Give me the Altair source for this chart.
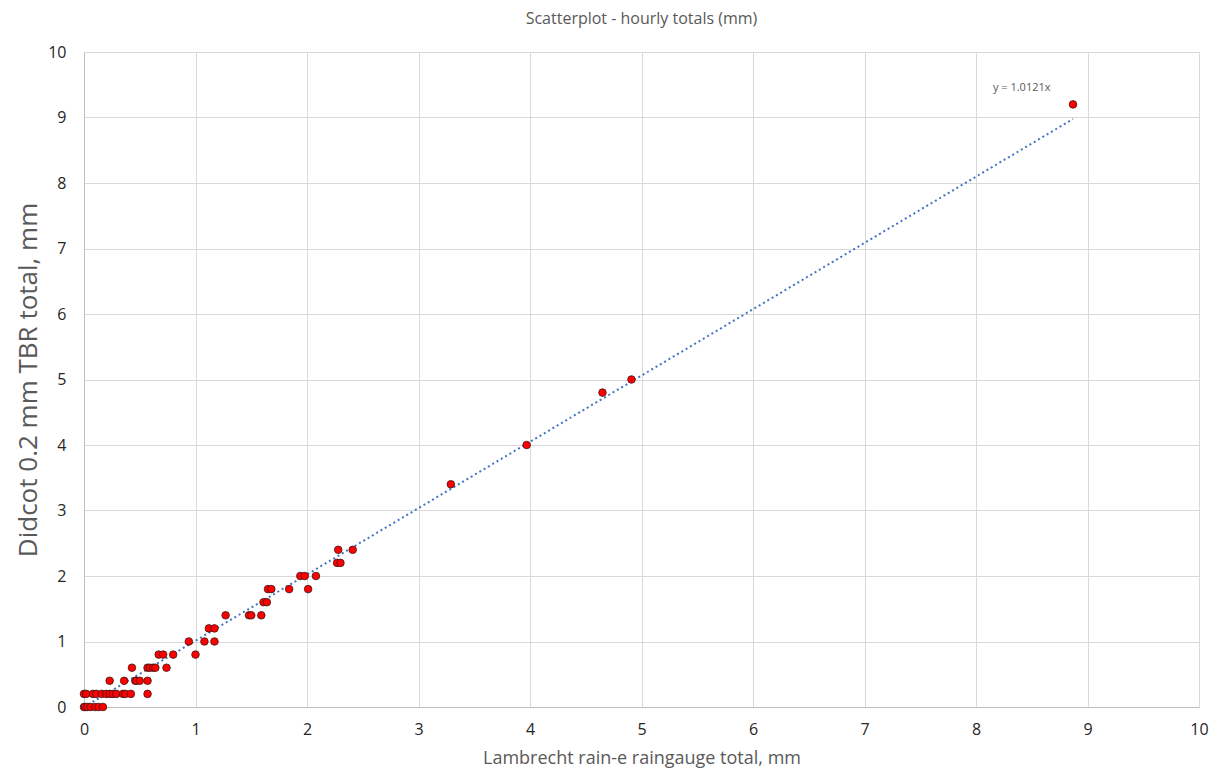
import altair as alt
import pandas as pd

# Lambrecht rain-e totals (x) and Didcot 0.2 mm TBR totals (y), hourly, mm
lambrecht = [
    0, 0.01, 0.03, 0.06, 0.10, 0.13, 0.17,
    0, 0.02, 0.08, 0.11, 0.16, 0.20, 0.23, 0.26, 0.29, 0.35, 0.37, 0.42, 0.57,
    0.23, 0.36, 0.46, 0.47, 0.50, 0.57,
    0.43, 0.57, 0.59, 0.62, 0.64, 0.74,
    0.67, 0.71, 0.80, 1.00,
    0.94, 1.08, 1.17,
    1.12, 1.17,
    1.27, 1.48, 1.50, 1.59,
    1.61, 1.64,
    1.65, 1.68, 1.84, 2.01,
    1.94, 1.98, 2.08,
    2.27, 2.30,
    2.28, 2.41,
    3.29, 3.97, 4.65, 4.91, 8.87,
]
didcot = (
    [0.0] * 7 + [0.2] * 13 + [0.4] * 6 + [0.6] * 6 + [0.8] * 4 + [1.0] * 3
    + [1.2] * 2 + [1.4] * 4 + [1.6] * 2 + [1.8] * 4 + [2.0] * 3 + [2.2] * 2
    + [2.4] * 2 + [3.4, 4.0, 4.8, 5.0, 9.2]
)

slope = 1.0121
trend_x = [0, 8.87]
label_text = ["y = 1.0121x"]
label_x = [8.41]
label_y = [9.45]

pts = pd.DataFrame({"x": lambrecht, "y": didcot})
trend = pd.DataFrame({"x": trend_x, "y": [slope * v for v in trend_x]})
lab = pd.DataFrame({"x": label_x, "y": label_y, "t": label_text})

FONT = "Open Sans"
GRAY = "#595959"

xscale = alt.Scale(domain=[0, 10], nice=False, zero=True)
yscale = alt.Scale(domain=[0, 10], nice=False, zero=True)

xaxis = alt.Axis(
    values=list(range(0, 11)), format="d", labelFlush=False,
    title="Lambrecht rain-e raingauge total, mm",
    grid=True, gridColor="#d9d9d9", domainColor="#bfbfbf", ticks=False,
    labelFontSize=16, labelColor="#262626", labelPadding=14, labelFont=FONT,
    titleFontSize=18, titleColor=GRAY, titleFont=FONT, titleFontWeight="normal",
    titlePadding=12,
)
yaxis = alt.Axis(
    values=list(range(0, 11)), format="d", labelFlush=False,
    title="Didcot 0.2 mm TBR total, mm",
    grid=True, gridColor="#d9d9d9", domainColor="#bfbfbf", ticks=False,
    labelFontSize=16, labelColor="#262626", labelPadding=18, labelFont=FONT,
    titleFontSize=26, titleColor=GRAY, titleFont=FONT, titleFontWeight="normal",
    titlePadding=6,
)

base_pts = alt.Chart(pts).mark_circle(
    size=58, color="#ff0000", opacity=1, stroke="#3a1a1a", strokeWidth=0.8
).encode(
    x=alt.X("x:Q", scale=xscale, axis=xaxis),
    y=alt.Y("y:Q", scale=yscale, axis=yaxis),
)

line = alt.Chart(trend).mark_line(
    color="#4472c4", strokeWidth=2, strokeDash=[2, 3]
).encode(x=alt.X("x:Q", scale=xscale), y=alt.Y("y:Q", scale=yscale))

text = alt.Chart(lab).mark_text(
    fontSize=11, color=GRAY, font=FONT
).encode(x=alt.X("x:Q", scale=xscale), y=alt.Y("y:Q", scale=yscale), text="t:N")

chart = alt.layer(line, base_pts, text).properties(
    width=1115, height=655,
    title=alt.TitleParams(
        "Scatterplot - hourly totals (mm)", fontSize=16, color=GRAY,
        font=FONT, fontWeight="normal", anchor="middle", offset=17,
    ),
    autosize=alt.AutoSizeParams(type="none"),
    padding={"left": 76, "top": 44, "right": 14, "bottom": 65},
).configure_view(stroke=None).configure(background="white")

chart.save("out.html", embed_options={"renderer": "svg", "actions": False})
